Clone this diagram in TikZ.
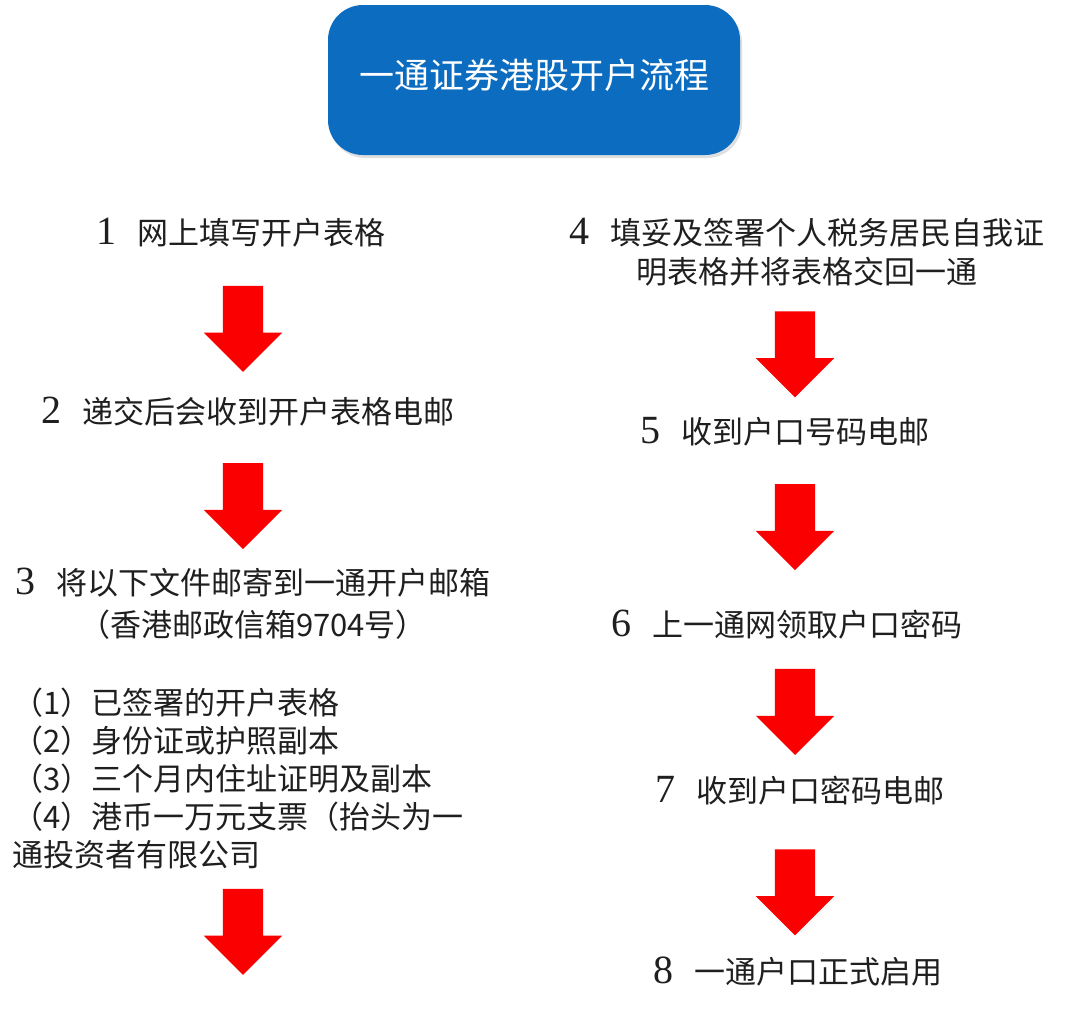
\documentclass[tikz,border=0pt]{standalone}
\usepackage{fontspec}
\setmainfont{Noto Sans CJK SC}
\newfontfamily\numfont{Liberation Serif}
\usetikzlibrary{shapes.arrows,shadows}
\definecolor{titleblue}{RGB}{12,108,192}
\definecolor{arrowred}{RGB}{250,0,0}
\newcommand\stepno[1]{{\numfont\fontsize{40}{40}\selectfont #1}\hspace{0.7em}}
\begin{document}
\begin{tikzpicture}[x=1pt, y=-1pt,
    every node/.style={inner sep=0pt, text=black!88, align=center},
    steptext/.style={font=\fontsize{31}{40}\selectfont},
    titlebox/.style={rectangle, rounded corners=35pt, fill=titleblue, text=white,
        minimum width=412pt, minimum height=150pt, text depth=12pt,
        font=\fontsize{35}{40}\selectfont,
        drop shadow={opacity=0.25, shadow xshift=2pt, shadow yshift=-3pt}},
    redarrow/.style={single arrow, rotate=-90, fill=arrowred, draw=none,
        inner xsep=0pt, inner ysep=20pt, minimum height=86pt, minimum width=78pt,
        single arrow head extend=19pt}]
\useasboundingbox[fill=white] (0,0) rectangle (1066,1028);

\node [titlebox] (title) at (534,80) {一通证券港股开户流程};

% left column
\coordinate (lc) at (243,0);
\node [steptext] (s1) at (241,233) {\stepno{1}网上填写开户表格};
\node [steptext] (s2) at (248,412) {\stepno{2}递交后会收到开户表格电邮};
\node [steptext, font=\fontsize{31}{42}\selectfont] (s3) at (253,604)
    {\stepno{3}将以下文件邮寄到一通开户邮箱\\（香港邮政信箱9704号）};
\node [steptext, font=\fontsize{31}{38}\selectfont, align=left, anchor=north west] (docs) at (12,688)
    {（1）已签署的开户表格\\（2）身份证或护照副本\\（3）三个月内住址证明及副本\\（4）港币一万元支票（抬头为一\\通投资者有限公司};
\coordinate (e3) at (243,974);

% right column
\coordinate (rc) at (795,0);
\node [steptext, font=\fontsize{31}{39}\selectfont] (s4) at (807,252)
    {\stepno{4}填妥及签署个人税务居民自我证\\明表格并将表格交回一通};
\node [steptext] (s5) at (785,432) {\stepno{5}收到户口号码电邮};
\node [steptext] (s6) at (787,625) {\stepno{6}上一通网领取户口密码};
\node [steptext] (s7) at (800,791) {\stepno{7}收到户口密码电邮};
\node [steptext] (s8) at (798,972) {\stepno{8}一通户口正式启用};

% arrows
\path (s1.south -| lc) -- (s2.north -| lc) node [redarrow, pos=0.475] (a1) {};
\path (s2.south -| lc) -- (s3.north -| lc) node [redarrow, pos=0.49] (a2) {};
\path (docs.south -| lc) -- (e3) node [redarrow, midway] (a3) {};
\path (s4.south -| rc) -- (s5.north -| rc) node [redarrow, pos=0.443] (a4) {};
\path (s5.south -| rc) -- (s6.north -| rc) node [redarrow, pos=0.43] (a5) {};
\path (s6.south -| rc) -- (s7.north -| rc) node [redarrow, pos=0.455] (a6) {};
\path (s7.south -| rc) -- (s8.north -| rc) node [redarrow, pos=0.505] (a7) {};
\end{tikzpicture}
\end{document}
